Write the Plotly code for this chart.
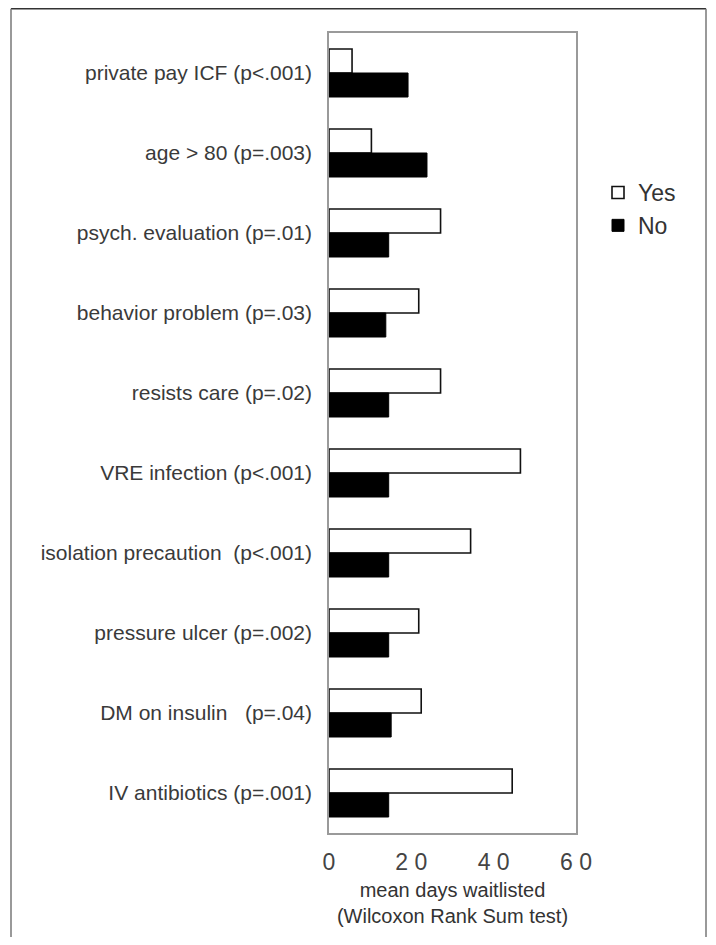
import plotly.graph_objects as go

categories = [
    "private pay ICF (p<.001)",
    "age > 80 (p=.003)",
    "psych. evaluation (p=.01)",
    "behavior problem (p=.03)",
    "resists care (p=.02)",
    "VRE infection (p<.001)",
    "isolation precaution\u00a0 (p<.001)",
    "pressure ulcer (p=.002)",
    "DM on insulin \u00a0 (p=.04)",
    "IV antibiotics (p=.001)",
]
yes_values = [5.6, 10.3, 27.1, 21.8, 27.1, 46.5, 34.4, 21.8, 22.4, 44.5]
no_values = [19.2, 23.8, 14.5, 13.8, 14.5, 14.5, 14.5, 14.5, 15.1, 14.5]

tick_vals = [0, 20, 40, 60]
tick_text = ["0", "2 0", "4 0", "6 0"]

# page has an 8px body margin; figure sized to fit the 716x945 window without scrollbars
OFF = 8
W, H = 708, 929
L, R, T, B = 321, 140, 25, 104
pw, ph = W - L - R, H - T - B


def fx(px):
    """reference-page x pixel -> paper x"""
    return (px - OFF - L) / pw


def fy(py):
    """reference-page y pixel -> paper y"""
    return (H - B - (py - OFF)) / ph


fig = go.Figure()
fig.add_trace(go.Bar(
    name="Yes", y=categories, x=yes_values, orientation="h",
    marker=dict(color="white", line=dict(color="#111111", width=1.6)),
))
fig.add_trace(go.Bar(
    name="No", y=categories, x=no_values, orientation="h",
    marker=dict(color="#000000", line=dict(color="#000000", width=1)),
))

font_family = "Liberation Sans, Arial, sans-serif"

RIGHT_EDGE = 706

fig.update_layout(
    width=W, height=H,
    margin=dict(l=L, r=R, t=T, b=B, pad=0, autoexpand=False),
    paper_bgcolor="white", plot_bgcolor="white",
    barmode="group", bargap=0.4, bargroupgap=0,
    font=dict(family=font_family, color="#333333"),
    showlegend=True,
    legend=dict(
        x=fx(598), y=fy(171), xanchor="left", yanchor="top",
        font=dict(size=23, color="#333333"), traceorder="normal",
        itemwidth=30, tracegroupgap=0, bgcolor="rgba(0,0,0,0)",
    ),
    xaxis=dict(
        range=[0, 60], tickvals=tick_vals, ticktext=tick_text,
        showgrid=False, zeroline=False,
        showline=True, mirror=True, linecolor="#9a9a9a", linewidth=1.5,
        ticks="", ticklabelstandoff=8,
        tickfont=dict(size=23, color="#444444"),
        title=dict(text="mean days waitlisted<br>(Wilcoxon Rank Sum test)",
                   font=dict(size=20, color="#333333"), standoff=9),
    ),
    yaxis=dict(
        autorange="reversed", showgrid=False, zeroline=False,
        showline=True, mirror=True, linecolor="#9a9a9a", linewidth=1.5,
        ticks="", ticklabelstandoff=11,
        tickfont=dict(size=21, color="#3a3a3a"),
    ),
    shapes=[
        dict(type="line", xref="paper", yref="paper",
             x0=fx(11), x1=fx(RIGHT_EDGE), y0=fy(8.75), y1=fy(8.75),
             line=dict(color="#333333", width=1.5)),
        dict(type="line", xref="paper", yref="paper",
             x0=fx(11), x1=fx(11), y0=fy(8.75), y1=fy(945),
             line=dict(color="#777777", width=1.5)),
        dict(type="line", xref="paper", yref="paper",
             x0=fx(RIGHT_EDGE), x1=fx(RIGHT_EDGE), y0=fy(8.75), y1=fy(945),
             line=dict(color="#777777", width=1.5)),
    ],
)

fig.write_html("out.html")
